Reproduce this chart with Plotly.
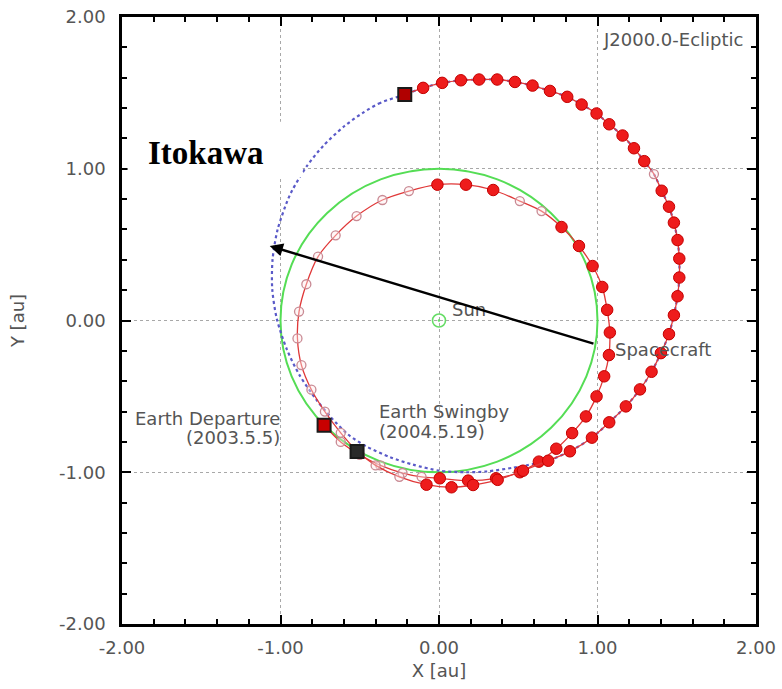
import plotly.graph_objects as go

# ---------------- data (in au) ----------------
EARTH_ORBIT_RADIUS = 1.0

# Itokawa orbit (blue dotted), traced counter-clockwise starting at the arrival point
ITOKAWA_X = [-0.216, -0.371, -0.481, -0.598, -0.732, -0.834, -0.923, -0.953, -1.018, -1.050,
             -1.052, -1.023, -0.960, -0.880, -0.775, -0.680, -0.575, -0.458, -0.310, -0.164,
             0.005, 0.170, 0.300, 0.468, 0.600, 0.689, 0.826, 0.965, 1.074, 1.179,
             1.268, 1.341, 1.400, 1.451, 1.482, 1.505, 1.516, 1.516, 1.505, 1.482,
             1.451, 1.405, 1.356, 1.295, 1.230, 1.158, 1.074, 0.994, 0.900, 0.809,
             0.700, 0.590, 0.479, 0.367, 0.253, 0.138, 0.020, -0.100, -0.216]
ITOKAWA_Y = [1.489, 1.434, 1.368, 1.280, 1.149, 1.017, 0.864, 0.798, 0.600, 0.403,
             0.206, 0.010, -0.190, -0.360, -0.520, -0.640, -0.750, -0.830, -0.900, -0.950,
             -0.990, -1.000, -0.995, -0.970, -0.945, -0.924, -0.862, -0.772, -0.671, -0.566,
             -0.454, -0.338, -0.215, -0.090, 0.035, 0.160, 0.283, 0.408, 0.530, 0.645,
             0.750, 0.855, 0.965, 1.050, 1.135, 1.219, 1.293, 1.364, 1.423, 1.474,
             1.513, 1.548, 1.572, 1.588, 1.588, 1.583, 1.566, 1.533, 1.489]

# Spacecraft: Earth departure -> one revolution -> Earth swingby (1 = filled marker, 0 = open, -1 = none)
LOOP_X = [-0.725, -0.620, -0.500, -0.370, -0.230, -0.110, 0.005, 0.184, 0.360, 0.510,
          0.630, 0.740, 0.840, 0.927, 0.994, 1.042, 1.072, 1.078, 1.061, 1.030,
          0.969, 0.883, 0.773, 0.647, 0.510, 0.342, 0.170, -0.010, -0.190, -0.357,
          -0.520, -0.652, -0.763, -0.837, -0.883, -0.893, -0.868, -0.805, -0.720, -0.620,
          -0.517]
LOOP_Y = [-0.690, -0.800, -0.885, -0.955, -1.005, -1.030, -1.040, -1.055, -1.040, -1.000,
          -0.930, -0.845, -0.742, -0.632, -0.500, -0.368, -0.228, -0.079, 0.070, 0.221,
          0.359, 0.491, 0.616, 0.721, 0.787, 0.860, 0.895, 0.895, 0.853, 0.794,
          0.688, 0.561, 0.421, 0.239, 0.059, -0.118, -0.294, -0.456, -0.600, -0.740,
          -0.864]
LOOP_KIND = [-1, 0, 0, 0, 0, 0, 1, 1, 1, 1,
             1, 1, 1, 1, 1, 1, 1, 1, 1, 1,
             1, 1, 1, 0, 0, 1, 1, 1, 0, 0,
             0, 0, 0, 0, 0, 0, 0, 0, 0, 0,
             -1]

# Spacecraft: Earth swingby -> arrival at Itokawa
OUTER_X = [-0.517, -0.400, -0.250, -0.079, 0.079, 0.215, 0.370, 0.530, 0.689, 0.826,
           0.965, 1.074, 1.179, 1.268, 1.341, 1.400, 1.451, 1.482, 1.505, 1.516,
           1.516, 1.505, 1.482, 1.451, 1.405, 1.356, 1.295, 1.230, 1.158, 1.074,
           0.994, 0.900, 0.809, 0.700, 0.590, 0.479, 0.367, 0.253, 0.138, 0.020,
           -0.100, -0.216]
OUTER_Y = [-0.864, -0.955, -1.030, -1.082, -1.099, -1.084, -1.050, -0.990, -0.924, -0.862,
           -0.772, -0.671, -0.566, -0.454, -0.338, -0.215, -0.090, 0.035, 0.160, 0.283,
           0.408, 0.530, 0.645, 0.750, 0.855, 0.965, 1.050, 1.135, 1.219, 1.293,
           1.364, 1.423, 1.474, 1.513, 1.548, 1.572, 1.588, 1.588, 1.583, 1.566,
           1.533, 1.489]
OUTER_KIND = [-1, 0, 0, 1, 1, 1, 1, 1, 1, 1,
              1, 1, 1, 1, 1, 1, 1, 1, 1, 1,
              1, 1, 1, 1, 1, 0, 1, 1, 1, 1,
              1, 1, 1, 1, 1, 1, 1, 1, 1, 1,
              1, -1]

EVENT_X = [-0.725, -0.517, -0.216]     # departure, swingby, arrival
EVENT_Y = [-0.690, -0.864, 1.489]
EVENT_FILL = ["#c80000", "#2a2a2a", "#b00000"]

SUN_X, SUN_Y = [0.0], [0.0]

ARROW_TAIL = (0.984, -0.156)
ARROW_HEAD = (-1.068, 0.491)

TICKS = [-2, -1, 0, 1, 2]
TICK_TEXT = ["-2.00", "-1.00", "0.00", "1.00", "2.00"]

# ---------------- figure ----------------
LABEL_FONT = dict(family="DejaVu Sans", size=18, color="#555555")
fig = go.Figure()

# Itokawa orbit
fig.add_trace(go.Scatter(x=ITOKAWA_X, y=ITOKAWA_Y, mode="lines",
                         line=dict(color="#5a5ac8", width=2.2, dash="dot", shape="spline", smoothing=0.8),
                         hoverinfo="skip"))

RED_LINE = dict(color="#e03838", width=1.3, shape="spline", smoothing=0.8)


def add_path(xs, ys, kinds):
    fig.add_trace(go.Scatter(x=xs, y=ys, mode="lines", line=RED_LINE, hoverinfo="skip"))
    ox = [x for x, k in zip(xs, kinds) if k == 0]
    oy = [y for y, k in zip(ys, kinds) if k == 0]
    fx = [x for x, k in zip(xs, kinds) if k == 1]
    fy = [y for y, k in zip(ys, kinds) if k == 1]
    fig.add_trace(go.Scatter(x=ox, y=oy, mode="markers",
                             marker=dict(symbol="circle", size=9, color="rgba(255,235,235,0.4)",
                                         line=dict(color="#c98a94", width=1.3)),
                             hoverinfo="skip"))
    fig.add_trace(go.Scatter(x=fx, y=fy, mode="markers",
                             marker=dict(symbol="circle", size=11.5, color="#ee1c1c",
                                         line=dict(color="#c40000", width=1)),
                             hoverinfo="skip"))


add_path(LOOP_X, LOOP_Y, LOOP_KIND)
add_path(OUTER_X, OUTER_Y, OUTER_KIND)

# Event squares
fig.add_trace(go.Scatter(x=EVENT_X, y=EVENT_Y, mode="markers",
                         marker=dict(symbol="square", size=13, color=EVENT_FILL,
                                     line=dict(color="#1a1a1a", width=2)),
                         hoverinfo="skip"))

# Sun
fig.add_trace(go.Scatter(x=SUN_X, y=SUN_Y, mode="markers",
                         marker=dict(symbol="circle-open-dot", size=13, color="#66dd66",
                                     line=dict(width=1.6)),
                         hoverinfo="skip"))

# Earth orbit (green circle) and white box behind "Itokawa"
fig.add_shape(type="circle", xref="x", yref="y",
              x0=-EARTH_ORBIT_RADIUS, y0=-EARTH_ORBIT_RADIUS,
              x1=EARTH_ORBIT_RADIUS, y1=EARTH_ORBIT_RADIUS,
              line=dict(color="#55dd55", width=2), layer="between")
fig.add_shape(type="rect", xref="x", yref="y", x0=-1.965, x1=-0.86, y0=0.945, y1=1.31,
              fillcolor="white", line=dict(width=0), layer="above")

# Annotations
ann = [
    dict(x=1.93, y=1.85, text="J2000.0-Ecliptic", xanchor="right", yanchor="middle"),
    dict(x=0.07, y=0.07, text="Sun", xanchor="left", yanchor="middle"),
    dict(x=1.095, y=-0.19, text="Spacecraft", xanchor="left", yanchor="middle"),
    dict(x=-0.99, y=-0.645, text="Earth Departure", xanchor="right", yanchor="middle"),
    dict(x=-0.99, y=-0.77, text="(2003.5.5)", xanchor="right", yanchor="middle"),
    dict(x=-0.39, y=-0.60, text="Earth Swingby", xanchor="left", yanchor="middle"),
    dict(x=-0.39, y=-0.73, text="(2004.5.19)", xanchor="left", yanchor="middle"),
]
for a in ann:
    fig.add_annotation(xref="x", yref="y", showarrow=False, font=LABEL_FONT, **a)

fig.add_annotation(xref="x", yref="y", x=-1.47, y=1.105, text="<b>Itokawa</b>", showarrow=False,
                   font=dict(family="Liberation Serif", size=33, color="black"),
                   xanchor="center", yanchor="middle")

fig.add_annotation(xref="x", yref="y", axref="x", ayref="y",
                   x=ARROW_HEAD[0], y=ARROW_HEAD[1], ax=ARROW_TAIL[0], ay=ARROW_TAIL[1],
                   text="", showarrow=True, arrowhead=2, arrowsize=1.1, arrowwidth=2.4,
                   arrowcolor="black", standoff=0, startstandoff=0)

axis_common = dict(
    range=[-2, 2], tickmode="array", tickvals=TICKS, ticktext=TICK_TEXT,
    showgrid=True, gridcolor="#a8a8a8", griddash="dot", gridwidth=1,
    zeroline=False, showline=True, linecolor="black", linewidth=2.5, mirror="ticks",
    ticks="inside", ticklen=9, tickwidth=2, tickcolor="black",
    minor=dict(dtick=0.2, tick0=0, ticks="inside", ticklen=5, tickwidth=2, tickcolor="black", showgrid=False),
    tickfont=LABEL_FONT, fixedrange=True, automargin=False,
)

fig.update_layout(
    width=782, height=689,
    margin=dict(l=122, r=26, t=17, b=65),
    paper_bgcolor="white", plot_bgcolor="white",
    showlegend=False,
    xaxis=dict(**axis_common, title=dict(text="X [au]", font=LABEL_FONT, standoff=8),
               ticklabelstandoff=6),
    yaxis=dict(**axis_common, title=dict(text="Y [au]", font=LABEL_FONT, standoff=30),
               ticklabelstandoff=10),
)

# remove the default page margin so the figure sits at the window's top-left corner
fig.write_html("out.html", config={"displayModeBar": False},
               post_script="document.body.style.margin='0';document.body.style.overflow='hidden';")
